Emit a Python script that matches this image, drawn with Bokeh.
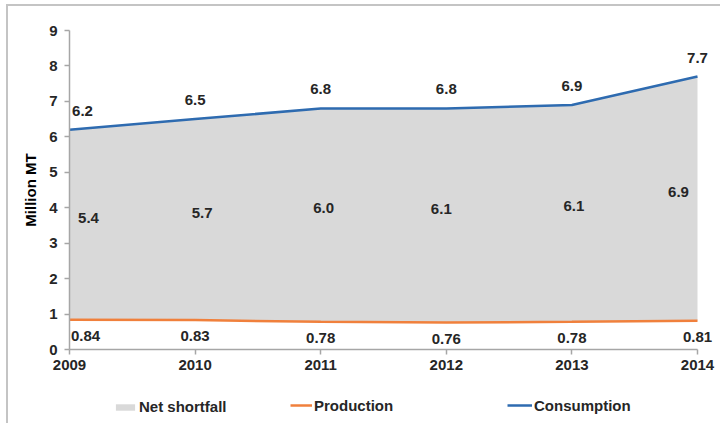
from bokeh.plotting import figure
from bokeh.models import ColumnDataSource, Range1d, FixedTicker, Legend, LegendItem
from bokeh.embed import file_html
from bokeh.resources import INLINE
from bokeh.core.properties import value

# ---- data ----
years = [2009, 2010, 2011, 2012, 2013, 2014]
consumption = [6.2, 6.5, 6.8, 6.8, 6.9, 7.7]
production = [0.84, 0.83, 0.78, 0.76, 0.78, 0.81]
net_shortfall = [5.4, 5.7, 6.0, 6.1, 6.1, 6.9]
y_ticks = [0, 1, 2, 3, 4, 5, 6, 7, 8, 9]
series_names = ["Net shortfall", "Production", "Consumption"]
y_title = "Million MT"

# ---- styles / layout ----
FONT = "Liberation Sans"
TXT = "#262626"
AXIS_C = "#A6A6A6"
AREA_C = "#D9D9D9"
PROD_C = "#F0803C"
CONS_C = "#2E6BB0"

W, H = 714, 419           # canvas size (page offset 8, 6 by css margin+border)
X0_PX, Y9_PX = 61, 24     # canvas position of first year / top tick
PLOT_W = 628              # pixels between first and last year
PLOT_H = 319              # pixels between 0 and 9
px_per_x = PLOT_W / (years[-1] - years[0])
px_per_y = PLOT_H / (y_ticks[-1] - y_ticks[0])
x_start = years[0] - X0_PX / px_per_x
x_end = years[0] + (W - X0_PX) / px_per_x
y_end = y_ticks[-1] + Y9_PX / px_per_y
y_start = y_ticks[-1] - (H - Y9_PX) / px_per_y

n = len(years)
src = ColumnDataSource(dict(
    x=years,
    cons=consumption,
    prod=production,
    mid=[(a + b) / 2 for a, b in zip(consumption, production)],
    cons_lbl=["%.1f" % v for v in consumption],
    prod_lbl=["%.2f" % v for v in production],
    short_lbl=["%.1f" % v for v in net_shortfall],
    dx_top=[13] + [0] * (n - 1),
    dx_bot=[16] + [0] * (n - 1),
    dx_mid=[19, 7, 3, -5, 2, -19],
))

p = figure(width=W, height=H, output_backend="svg", toolbar_location=None,
           x_range=Range1d(x_start, x_end), y_range=Range1d(y_start, y_end),
           min_border=0)
p.styles = {"margin-left": "6px", "margin-top": "4px",
            "border-left": "2px solid #C4C4C4", "border-top": "2px solid #C4C4C4"}
p.outline_line_color = None
p.grid.visible = False
p.background_fill_color = "white"
p.border_fill_color = "white"

r_area = p.varea(x="x", y1="prod", y2="cons", source=src, fill_color=AREA_C)
r_prod = p.line(x="x", y="prod", source=src, line_color=PROD_C, line_width=2.5)
r_cons = p.line(x="x", y="cons", source=src, line_color=CONS_C, line_width=2.5)

common = dict(source=src, text_font=value(FONT), text_font_size="15px",
              text_font_style="bold", text_color=TXT, text_align="center",
              text_baseline="middle")
p.text(x="x", y="cons", text="cons_lbl", y_offset=-19, x_offset="dx_top", **common)
p.text(x="x", y="prod", text="prod_lbl", y_offset=16, x_offset="dx_bot", **common)
p.text(x="x", y="mid", text="short_lbl", y_offset=-7, x_offset="dx_mid", **common)

# axes (fixed at the data origin so that the frame can cover the whole canvas)
for ax in (p.xaxis[0], p.yaxis[0]):
    ax.axis_line_color = AXIS_C
    ax.axis_line_width = 1.5
    ax.major_tick_line_color = AXIS_C
    ax.major_tick_line_width = 1.5
    ax.major_tick_in = 0
    ax.minor_tick_line_color = None
    ax.major_label_text_font = FONT
    ax.major_label_text_font_size = "15px"
    ax.major_label_text_font_style = "bold"
    ax.major_label_text_color = TXT

p.xaxis.ticker = FixedTicker(ticks=years)
p.xaxis.fixed_location = y_ticks[0]
p.xaxis.bounds = (years[0], years[-1])
p.xaxis.major_tick_out = 5
p.xaxis.major_label_standoff = 5
p.yaxis.ticker = FixedTicker(ticks=y_ticks)
p.yaxis.fixed_location = years[0]
p.yaxis.bounds = (y_ticks[0], y_ticks[-1])
p.yaxis.major_tick_out = 5
p.yaxis.major_label_standoff = 7
p.yaxis.axis_label = y_title
p.yaxis.axis_label_text_font = FONT
p.yaxis.axis_label_text_font_size = "15px"
p.yaxis.axis_label_text_font_style = "bold"
p.yaxis.axis_label_text_color = "#000000"
p.yaxis.axis_label_standoff = 7

# legends (one per item, placed below the axis inside the frame)
leg_specs = [(series_names[0], r_area, 105, 24, 8),
             (series_names[1], r_prod, 282, 22, 20),
             (series_names[2], r_cons, 499, 25, 20)]
for name, rend, lx, gw, gh in leg_specs:
    leg = Legend(items=[LegendItem(label=name, renderers=[rend])],
                 location=(lx, 10), orientation="horizontal",
                 padding=0, margin=0, spacing=0,
                 glyph_width=gw, glyph_height=gh, label_standoff=2,
                 border_line_alpha=0, background_fill_alpha=0,
                 label_text_font=FONT, label_text_font_size="15px",
                 label_text_font_style="bold", label_text_color=TXT)
    p.add_layout(leg, "center")

open("out.html", "w").write(file_html(p, INLINE))
